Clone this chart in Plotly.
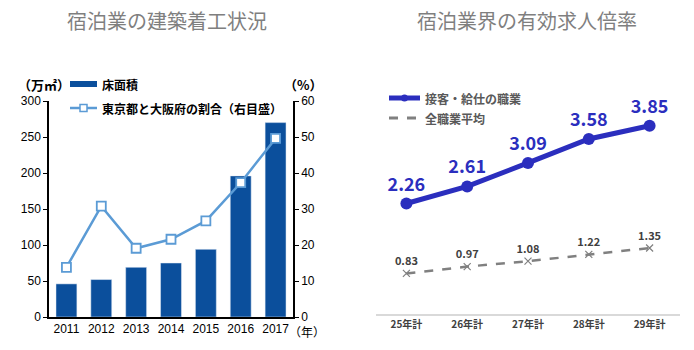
import plotly.graph_objects as go

# ---- data ----
years = ["2011", "2012", "2013", "2014", "2015", "2016", "2017"]
floor_area = [46, 52, 69, 75, 94, 196, 270]          # 万㎡
tokyo_osaka_share = [13.8, 30.8, 19.1, 21.6, 26.7, 37.3, 49.6]  # %

periods = ["25年計", "26年計", "27年計", "28年計", "29年計"]
service_ratio = [2.26, 2.61, 3.09, 3.58, 3.85]
all_ratio = [0.83, 0.97, 1.08, 1.22, 1.35]

W, H = 694, 350
def px(x): return x / W
def py(y): return (H - y) / H

BAR = "#0B4F9C"
LBLUE = "#5B9BD5"
DBLUE = "#2B2EBE"
GRAY = "#808080"
JP = "Noto Sans CJK JP"
AR = "Liberation Sans"

fig = go.Figure()

fig.add_trace(go.Bar(x=years, y=floor_area, marker_color=BAR, xaxis="x", yaxis="y",
                     showlegend=False, hoverinfo="skip"))
fig.add_trace(go.Scatter(x=years, y=tokyo_osaka_share, xaxis="x", yaxis="y2",
                         mode="lines+markers", line=dict(color=LBLUE, width=2.5),
                         marker=dict(symbol="square", size=9, color="white",
                                     line=dict(color=LBLUE, width=1.8)),
                         showlegend=False, hoverinfo="skip"))

fig.add_trace(go.Scatter(x=periods, y=service_ratio, xaxis="x2", yaxis="y3",
                         mode="lines+markers+text", text=[f"{v:.2f}" for v in service_ratio],
                         textposition="top center",
                         textfont=dict(family=JP, size=18, color=DBLUE, weight="bold"),
                         line=dict(color=DBLUE, width=5),
                         marker=dict(symbol="circle", size=12, color=DBLUE),
                         showlegend=False, hoverinfo="skip", cliponaxis=False))
fig.add_trace(go.Scatter(x=periods, y=all_ratio, xaxis="x2", yaxis="y3",
                         mode="lines+markers+text", text=[f"{v:.2f}" for v in all_ratio],
                         textposition="top center",
                         textfont=dict(family=JP, size=11, color="#404040", weight="bold"),
                         line=dict(color=GRAY, width=2.5, dash="dash"),
                         marker=dict(symbol="x-thin", size=7, color=GRAY,
                                     line=dict(color=GRAY, width=1.2)),
                         showlegend=False, hoverinfo="skip", cliponaxis=False))

axis_font = dict(family=AR, size=12, color="black")

fig.update_layout(
    width=W, height=H, margin=dict(l=0, r=0, t=0, b=0),
    paper_bgcolor="white", plot_bgcolor="white",
    bargap=0.4,
    xaxis=dict(domain=[px(49), px(293)], anchor="y", type="category",
               range=[-0.5, len(years) - 0.5],
               showline=True, linecolor="black", linewidth=1.5, ticks="",
               tickfont=axis_font, automargin=False, showgrid=False),
    yaxis=dict(domain=[py(317), py(101)], anchor="x", range=[0, 300], dtick=50,
               showline=True, linecolor="black", linewidth=1.5, ticks="outside",
               ticklen=4, tickcolor="black", tickfont=axis_font, showgrid=False,
               zeroline=False, automargin=False),
    yaxis2=dict(overlaying="y", side="right", anchor="x", range=[0, 60], dtick=10,
                showline=True, linecolor="black", linewidth=1.5, ticks="outside",
                ticklen=4, tickcolor="black", tickfont=axis_font, showgrid=False,
                zeroline=False, automargin=False),
    xaxis2=dict(domain=[px(376), px(680)], anchor="y3", type="category",
                range=[-0.5, len(periods) - 0.5],
                showline=True, linecolor="#D9D9D9", linewidth=1.5, ticks="",
                tickfont=dict(family=JP, size=10, color="#404040", weight="bold"),
                showgrid=False, automargin=False),
    yaxis3=dict(domain=[py(314), py(94)], anchor="x2", range=[0, 4.5], visible=False,
                showgrid=False, zeroline=False),
)

ann = []
def add_text(x, y, t, size, color="black", family=JP, xanchor="center", weight="normal"):
    ann.append(dict(x=px(x), y=py(y), xref="paper", yref="paper", text=t, showarrow=False,
                    xanchor=xanchor, yanchor="middle",
                    font=dict(family=family, size=size, color=color, weight=weight)))

add_text(167, 20, "宿泊業の建築着工状況", 20, "#7F7F7F")
add_text(527, 20, "宿泊業界の有効求人倍率", 20, "#7F7F7F")
add_text(44, 84, "（万㎡）", 13, "black", xanchor="center", weight="bold")
add_text(303, 84, "（%）", 13, "black", weight="bold")
add_text(287, 331, "（年）", 12, "black", xanchor="left")
add_text(100, 84, "床面積", 12, "black", xanchor="left", weight="bold")
add_text(100, 108, "東京都と大阪府の割合（右目盛）", 12, "black", xanchor="left", weight="bold")
add_text(423, 98, "接客・給仕の職業", 12, "#595959", xanchor="left", weight="bold")
add_text(423, 118, "全職業平均", 12, "#595959", xanchor="left", weight="bold")

shapes = [
    dict(type="rect", xref="paper", yref="paper", x0=px(70), x1=px(97), y0=py(87), y1=py(81),
         fillcolor=BAR, line=dict(width=0)),
    dict(type="line", xref="paper", yref="paper", x0=px(70), x1=px(97), y0=py(108), y1=py(108),
         line=dict(color=LBLUE, width=2.5)),
    dict(type="rect", xref="paper", yref="paper", x0=px(80), x1=px(87), y0=py(111.5), y1=py(104.5),
         fillcolor="white", line=dict(color=LBLUE, width=1.5)),
    dict(type="line", xref="paper", yref="paper", x0=px(389), x1=px(420), y0=py(98), y1=py(98),
         line=dict(color=DBLUE, width=5)),
    dict(type="circle", xref="paper", yref="paper", x0=px(401), x1=px(408), y0=py(101.5), y1=py(94.5),
         fillcolor=DBLUE, line=dict(width=0)),
    dict(type="line", xref="paper", yref="paper", x0=px(389), x1=px(420), y0=py(118), y1=py(118),
         line=dict(color=GRAY, width=3, dash="dash")),
]

fig.update_layout(annotations=ann, shapes=shapes)
fig.write_html("out.html")
